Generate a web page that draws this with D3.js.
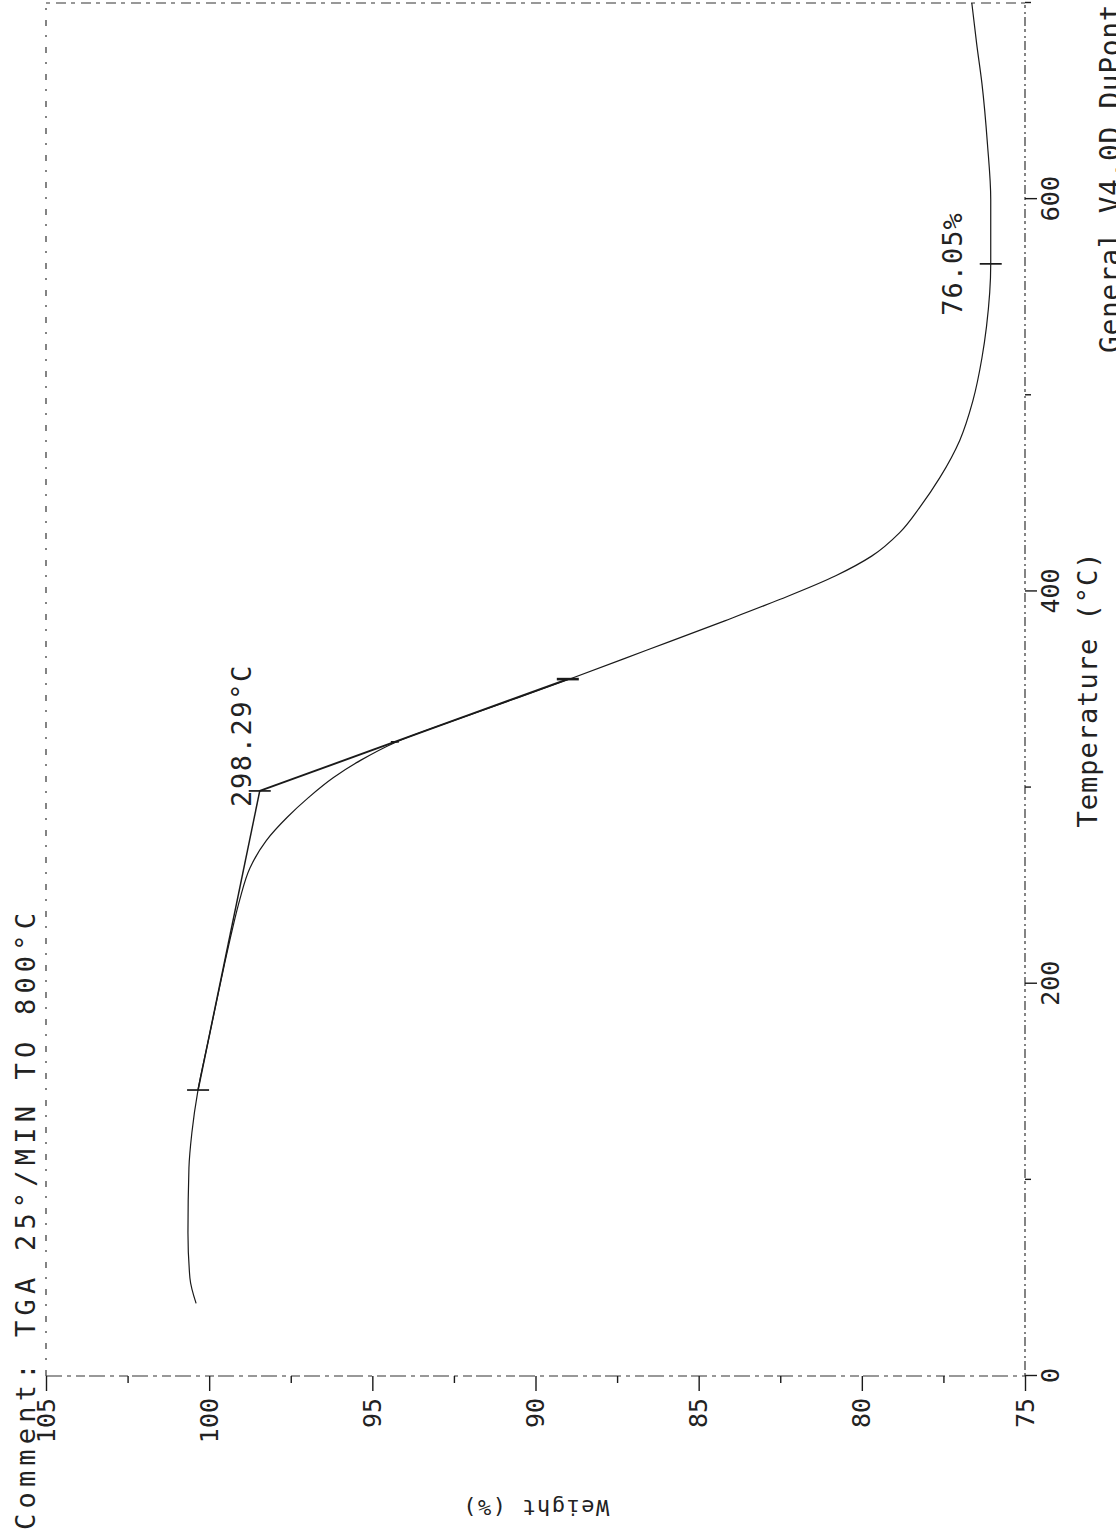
<!DOCTYPE html>
<html>
<head>
<meta charset="utf-8">
<script src="https://cdn.jsdelivr.net/npm/d3@7"></script>
<style>
  html, body { margin: 0; padding: 0; background: #fff; }
  svg { display: block; }
  text { font-family: "DejaVu Sans Mono", "Liberation Mono", monospace; fill: #222; }
</style>
</head>
<body>
<script>
// TGA thermogram, 25 °C/min to 800 °C: weight (%) versus temperature (°C).
// The plotter page is printed sideways, so the whole chart is drawn in its own
// frame and then turned a quarter turn counter-clockwise.

const tempC = [37, 50, 73, 106, 124, 146, 170, 192, 210, 227, 243, 259, 273, 285, 295,
               305, 314, 323, 338, 355, 370, 385, 396, 408, 418, 430, 443, 458, 477, 497,
               519, 535, 567, 600, 628, 659, 679, 700];
const weightPct = [100.40, 100.59, 100.65, 100.62, 100.53, 100.34, 100.04, 99.76, 99.53, 99.30,
                   99.06, 98.75, 98.25, 97.60, 96.95, 96.20, 95.35, 94.30, 91.85, 89.01,
                   86.60, 84.20, 82.50, 80.80, 79.70, 78.84, 78.22, 77.61, 77.00, 76.60,
                   76.32, 76.18, 76.05, 76.05, 76.15, 76.32, 76.48, 76.63];

// Onset construction: baseline tangent and tangent at the steepest loss
const baseTangentT = [145.8, 298.29];
const baseTangentW = [100.34, 98.45];
const stepTangentT = [298.29, 355.3];
const stepTangentW = [98.45, 89.01];

// Cursor marks placed on the trace
const markT = [145.8, 298.29, 323.3, 355.3, 567];
const markW = [100.34, 98.45, 94.31, 89.01, 76.05];

const onsetT = 298.29, onsetW = 98.45;
const residueT = 567, residueW = 76.05;

const tempTicks = [0, 100, 200, 300, 400, 500, 600, 700];
const tempLabels = [0, 200, 400, 600];
const weightTicks = [75, 77.5, 80, 82.5, 85, 87.5, 90, 92.5, 95, 97.5, 100, 102.5, 105];
const weightLabels = [75, 80, 85, 90, 95, 100, 105];

const commentText = "Comment: TGA 25°/MIN TO 800°C";
const tempTitle = "Temperature (°C)";
const weightTitle = "Weight (%)";
const programText = "General V4.0D DuPont";

const W = 1116, H = 1532;
const svg = d3.select("body").append("svg").attr("width", W).attr("height", H);

// chart frame: u runs along temperature, v runs down the weight axis
const g = svg.append("g").attr("transform", `translate(0,${H}) rotate(-90)`);

const x = d3.scaleLinear().domain([0, 700]).range([156, 1529]);
const y = d3.scaleLinear().domain([75, 105]).range([1025, 46]);

const ink = "#1a1a1a";

// frame edges, drawn broken like a worn plotter pen
const frame = g.append("g").attr("fill", "none").attr("stroke", "#333").attr("stroke-width", 1.2);
frame.append("line").attr("x1", x(0)).attr("x2", x(0)).attr("y1", y(105)).attr("y2", y(75))
  .attr("stroke-dasharray", "16,5,4,5,9,4");
frame.append("line").attr("x1", x(0)).attr("x2", x(700)).attr("y1", y(75)).attr("y2", y(75))
  .attr("stroke-dasharray", "3,3,9,3,2,4");
frame.append("line").attr("x1", x(0)).attr("x2", x(700)).attr("y1", y(105)).attr("y2", y(105))
  .attr("stroke-dasharray", "6,10,2,9");
frame.append("line").attr("x1", x(700)).attr("x2", x(700)).attr("y1", y(105)).attr("y2", y(75))
  .attr("stroke-dasharray", "4,6,10,5");

// temperature axis
const gx = g.append("g").attr("transform", `translate(0,${y(75)})`)
  .call(d3.axisBottom(x).tickValues(tempTicks).tickSize(12).tickPadding(4)
    .tickFormat(d => tempLabels.includes(d) ? d : ""));
gx.select(".domain").remove();
gx.selectAll(".tick line").attr("stroke", ink).attr("stroke-width", 1.4)
  .attr("y2", d => tempLabels.includes(d) ? 12 : 6);
gx.selectAll(".tick text").attr("font-size", 25).attr("font-family", null).attr("fill", "#222");

// weight axis
const gy = g.append("g").attr("transform", `translate(${x(0)},0)`)
  .call(d3.axisLeft(y).tickValues(weightTicks).tickSize(15).tickPadding(7)
    .tickFormat(d => weightLabels.includes(d) ? d : ""));
gy.select(".domain").remove();
gy.selectAll(".tick line").attr("stroke", ink).attr("stroke-width", 1.4)
  .attr("x2", d => weightLabels.includes(d) ? -15 : -7);
gy.selectAll(".tick text").attr("font-size", 25).attr("font-family", null).attr("fill", "#222");

// weight trace
const trace = d3.line().x(d => x(d[0])).y(d => y(d[1])).curve(d3.curveMonotoneX);
g.append("path").datum(d3.zip(tempC, weightPct))
  .attr("d", trace).attr("fill", "none").attr("stroke", ink).attr("stroke-width", 1.2);

// tangent construction
const straight = d3.line().x(d => x(d[0])).y(d => y(d[1]));
[[baseTangentT, baseTangentW, 1.5], [stepTangentT, stepTangentW, 1.9]].forEach(([ts, ws, sw]) => {
  g.append("path").datum(d3.zip(ts, ws)).attr("d", straight)
    .attr("fill", "none").attr("stroke", ink).attr("stroke-width", sw);
});

// cursor ticks across the trace
g.append("g").selectAll("line").data(d3.zip(markT, markW)).join("line")
  .attr("x1", d => x(d[0])).attr("x2", d => x(d[0]))
  .attr("y1", (d, i) => y(d[1]) - (i === 2 ? 4 : 11))
  .attr("y2", (d, i) => y(d[1]) + (i === 2 ? 4 : 11))
  .attr("stroke", ink).attr("stroke-width", (d, i) => i === 3 ? 2.6 : 1.7);

// annotations
g.append("text").attr("x", x(onsetT) - 16).attr("y", y(onsetW) - 9)
  .attr("font-size", 27).attr("letter-spacing", 1.6)
  .text(`${onsetT.toFixed(2)}°C`);
g.append("text").attr("x", x(residueT)).attr("y", y(residueW) - 29)
  .attr("text-anchor", "middle").attr("font-size", 27).attr("letter-spacing", 1)
  .text(`${residueW.toFixed(2)}%`);

// titles and page notes
g.append("text").attr("x", 2).attr("y", 35)
  .attr("font-size", 27).attr("letter-spacing", 5.2).text(commentText);
g.append("text").attr("x", x(350)).attr("y", y(75) + 72)
  .attr("text-anchor", "middle").attr("font-size", 27).attr("letter-spacing", 1)
  .text(tempTitle);
g.append("text").attr("transform", `translate(32,${y(90)}) rotate(-90)`)
  .attr("text-anchor", "middle").attr("font-size", 22).attr("letter-spacing", 1.5)
  .attr("fill", "#333").text(weightTitle);
g.append("text").attr("x", 1179).attr("y", 1120)
  .attr("font-size", 28).attr("letter-spacing", 0.6).text(programText);
</script>
</body>
</html>
